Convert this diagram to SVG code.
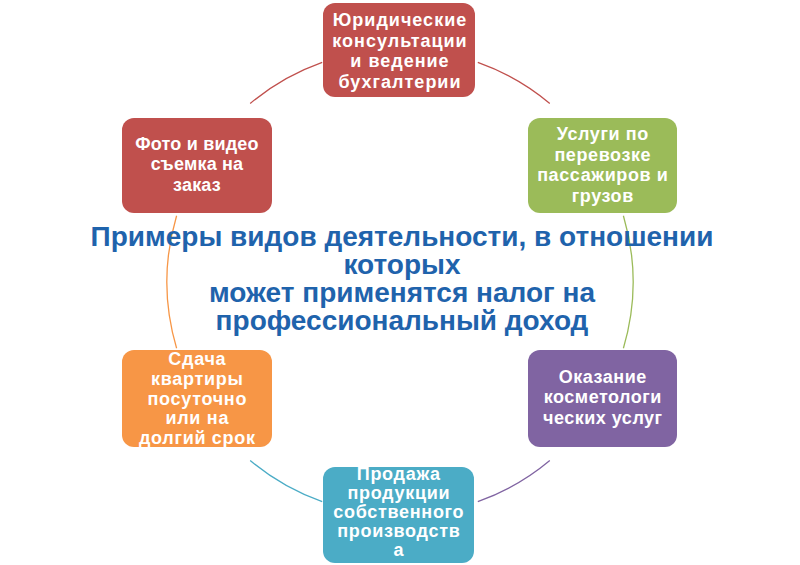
<svg xmlns="http://www.w3.org/2000/svg" width="800" height="565" viewBox="0 0 800 565">
<style>
.arc{fill:none;stroke-width:1.3}
.nt{font-family:"Liberation Sans",Arial,sans-serif;font-weight:bold;font-size:18px;fill:#fff;text-anchor:middle}
.tt{font-family:"Liberation Sans",Arial,sans-serif;font-weight:bold;font-size:28px;fill:#1F63AC;text-anchor:middle}
</style>
<rect width="800" height="565" fill="#fff"/>
<g id="connectors">
<path class="arc" stroke="#C0504D" d="M477.8 62.4 A233 233 0 0 1 549.8 103.5"/>
<path class="arc" stroke="#9BBB59" d="M623.4 215.8 A233 233 0 0 1 623.4 348.2"/>
<path class="arc" stroke="#8064A2" d="M549.8 460.5 A233 233 0 0 1 477.8 501.6"/>
<path class="arc" stroke="#4BACC6" d="M322.2 501.6 A233 233 0 0 1 250.2 460.5"/>
<path class="arc" stroke="#F79646" d="M176.6 348.2 A233 233 0 0 1 176.6 215.8"/>
<path class="arc" stroke="#C0504D" d="M250.2 103.5 A233 233 0 0 1 322.2 62.4"/>
</g>
<g id="n1">
<rect x="323" y="3" width="152" height="94" rx="12" fill="#C0504D"/>
<text class="nt" letter-spacing="1"><tspan x="400" y="26">Юридические</tspan><tspan x="400" y="46.5">консультации</tspan><tspan x="400" y="67">и ведение</tspan><tspan x="400" y="87.5">бухгалтерии</tspan></text>
</g>
<g id="n2">
<rect x="528" y="118" width="149" height="95" rx="12" fill="#9BBB59"/>
<text class="nt" letter-spacing="0.6"><tspan x="602.8" y="140">Услуги по</tspan><tspan x="602.8" y="160.5">перевозке</tspan><tspan x="602.8" y="181">пассажиров и</tspan><tspan x="602.8" y="201.5">грузов</tspan></text>
</g>
<g id="n3">
<rect x="528" y="350" width="149" height="97" rx="12" fill="#8064A2"/>
<text class="nt" letter-spacing="0.5"><tspan x="602.8" y="382.5">Оказание</tspan><tspan x="602.8" y="403">косметологи</tspan><tspan x="602.8" y="423.5">ческих услуг</tspan></text>
</g>
<g id="n4">
<rect x="323" y="467" width="151" height="96" rx="12" fill="#4BACC6"/>
<text class="nt" letter-spacing="0.7"><tspan x="398.8" y="480">Продажа</tspan><tspan x="398.8" y="499">продукции</tspan><tspan x="398.8" y="518">собственного</tspan><tspan x="398.8" y="537">производств</tspan><tspan x="398.8" y="556">а</tspan></text>
</g>
<g id="n5">
<rect x="122" y="350" width="150" height="97" rx="12" fill="#F79646"/>
<text class="nt" letter-spacing="0.7"><tspan x="197.3" y="365">Сдача</tspan><tspan x="197.3" y="384.8">квартиры</tspan><tspan x="197.3" y="404.6">посуточно</tspan><tspan x="197.3" y="424.4">или на</tspan><tspan x="197.3" y="444.2">долгий срок</tspan></text>
</g>
<g id="n6">
<rect x="122" y="118" width="150" height="95" rx="12" fill="#C0504D"/>
<text class="nt" letter-spacing="0.2"><tspan x="197" y="149.5">Фото и видео</tspan><tspan x="197" y="170">съемка на</tspan><tspan x="197" y="190.5">заказ</tspan></text>
</g>
<g id="title">
<text class="tt"><tspan x="402" y="246">Примеры видов деятельности, в отношении</tspan><tspan x="402" y="274">которых</tspan><tspan x="402" y="302">может применятся налог на</tspan><tspan x="402" y="330">профессиональный доход</tspan></text>
</g>
</svg>
